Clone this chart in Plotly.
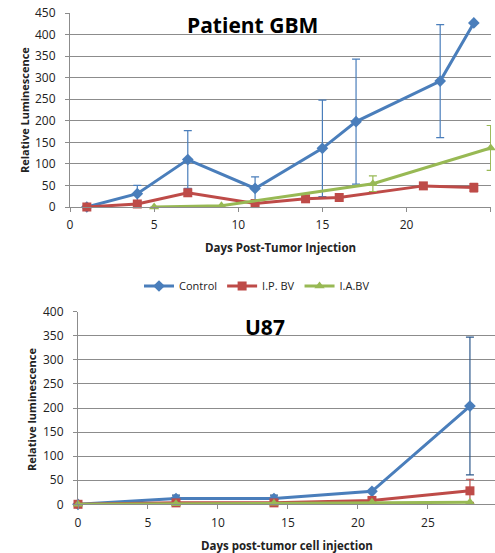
import plotly.graph_objects as go

W, H = 495, 553

# ---------------- Data: Patient GBM ----------------
gbm_ctrl_x = [1, 4, 7, 11, 15, 17, 22, 24]
gbm_ctrl_y = [0, 31, 110, 43, 136, 198, 292, 427]
gbm_ctrl_err = [None, 19, 67, 27, 112, 145, 131, None]

gbm_ip_x = [1, 4, 7, 11, 14, 16, 21, 24]
gbm_ip_y = [0, 7, 33, 8, 19, 22, 49, 45]
gbm_ip_err = [None, None, None, None, None, None, None, 10]

gbm_ia_x = [5, 9, 18, 25]
gbm_ia_y = [0, 3, 54, 137]
gbm_ia_err = [None, None, 18, 52]

# ---------------- Data: U87 ----------------
u87_ctrl_x = [0, 7, 14, 21, 28]
u87_ctrl_y = [0, 12, 12, 27, 204]
u87_ctrl_err = [None, 7, 7, None, 143]

u87_ip_x = [0, 7, 14, 21, 28]
u87_ip_y = [0, 3, 3, 8, 28]
u87_ip_err = [None, None, None, None, 24]

u87_ia_x = [0, 7, 14, 21, 28]
u87_ia_y = [0, 1, 2, 4, 4]

series_names = ["Control", "I.P. BV", "I.A.BV"]
gbm_yticks = [0, 50, 100, 150, 200, 250, 300, 350, 400, 450]
u87_yticks = [0, 50, 100, 150, 200, 250, 300, 350, 400]
gbm_xticks = [0, 5, 10, 15, 20, 25]
u87_xticks = [0, 5, 10, 15, 20, 25]

BLUE = "#4A7EBB"
RED = "#BE4B48"
GREEN = "#98B954"
GRID = "#8c8c8c"
FONT = "Open Sans, Liberation Sans, Arial, sans-serif"


def px_x(p):
    return p / W


def px_y(p):
    return 1 - p / H


def err(vals, color, w=1.2):
    return dict(type="data", array=vals, visible=True, color=color,
                thickness=w, width=4)


fig = go.Figure()

# Top chart traces
fig.add_trace(go.Scatter(x=gbm_ctrl_x, y=gbm_ctrl_y, name=series_names[0],
                         mode="lines+markers", line=dict(color=BLUE, width=3),
                         marker=dict(symbol="diamond", size=9, color=BLUE),
                         error_y=err(gbm_ctrl_err, BLUE), cliponaxis=False,
                         xaxis="x", yaxis="y"))
fig.add_trace(go.Scatter(x=gbm_ip_x, y=gbm_ip_y, name=series_names[1],
                         mode="lines+markers", line=dict(color=RED, width=3),
                         marker=dict(symbol="square", size=9, color=RED),
                         error_y=err(gbm_ip_err, RED), cliponaxis=False,
                         xaxis="x", yaxis="y"))
fig.add_trace(go.Scatter(x=gbm_ia_x, y=gbm_ia_y, name=series_names[2],
                         mode="lines+markers", line=dict(color=GREEN, width=3),
                         marker=dict(symbol="triangle-up", size=9, color=GREEN),
                         error_y=err(gbm_ia_err, GREEN), cliponaxis=False,
                         xaxis="x", yaxis="y"))

# Bottom chart traces
fig.add_trace(go.Scatter(x=u87_ctrl_x, y=u87_ctrl_y, name=series_names[0],
                         mode="lines+markers", line=dict(color=BLUE, width=3),
                         marker=dict(symbol="diamond", size=9, color=BLUE),
                         error_y=err(u87_ctrl_err, "#2F5A8C"), showlegend=False,
                         cliponaxis=False, xaxis="x2", yaxis="y2"))
fig.add_trace(go.Scatter(x=u87_ip_x, y=u87_ip_y, name=series_names[1],
                         mode="lines+markers", line=dict(color=RED, width=3),
                         marker=dict(symbol="square", size=9, color=RED),
                         error_y=err(u87_ip_err, RED), showlegend=False,
                         cliponaxis=False, xaxis="x2", yaxis="y2"))
fig.add_trace(go.Scatter(x=u87_ia_x, y=u87_ia_y, name=series_names[2],
                         mode="lines+markers", line=dict(color=GREEN, width=3),
                         marker=dict(symbol="triangle-up", size=9, color=GREEN),
                         showlegend=False, cliponaxis=False, xaxis="x2", yaxis="y2"))

axis_common = dict(showgrid=False, zeroline=False, showline=True, linecolor=GRID,
                   linewidth=1, ticks="outside", ticklen=4, tickcolor=GRID,
                   automargin=False, ticklabelstandoff=3,
                   tickfont=dict(family=FONT, size=12, color="#222"))
yaxis_common = dict(showgrid=True, gridcolor=GRID, gridwidth=1, zeroline=False,
                    showline=True, linecolor=GRID, ticks="outside", ticklen=4,
                    tickcolor=GRID, automargin=False, ticklabelstandoff=7,
                    tickfont=dict(family=FONT, size=12, color="#222"))


def ann(text, x, y, size, angle=0, color="#222"):
    return dict(text=text, x=px_x(x), y=px_y(y), xref="paper", yref="paper",
                xanchor="center", yanchor="middle", showarrow=False,
                textangle=angle, font=dict(family=FONT, size=size, color=color))


fig.update_layout(
    width=W, height=H,
    margin=dict(l=0, r=0, t=0, b=0, autoexpand=False),
    paper_bgcolor="white", plot_bgcolor="white",
    xaxis=dict(domain=[px_x(70), px_x(491)], range=[0, 25.02], tickvals=gbm_xticks,
               anchor="y", **axis_common),
    yaxis=dict(domain=[px_y(207), px_y(13)], range=[0, 450], tickvals=gbm_yticks,
               anchor="x", **yaxis_common),
    xaxis2=dict(domain=[px_x(78), 1.0], range=[0, 29.79], tickvals=u87_xticks,
                anchor="y2", **axis_common),
    yaxis2=dict(domain=[px_y(504.3), px_y(311.7)], range=[0, 400], tickvals=u87_yticks,
                anchor="x2", **yaxis_common),
    legend=dict(orientation="h", x=px_x(257), y=px_y(286), xanchor="center",
                yanchor="middle", font=dict(family=FONT, size=11, color="#222"),
                itemwidth=30, bgcolor="rgba(0,0,0,0)"),
    showlegend=True,
    annotations=[
        ann("<b>Patient GBM</b>", 253, 25, 21, color="black"),
        ann("<b>U87</b>", 265, 327, 21, color="black"),
        ann("<b>Relative Luminescence</b>", 24, 110, 11, angle=-90),
        ann("<b>Days Post-Tumor Injection</b>", 280, 247, 11.5),
        ann("<b>Relative luminescence</b>", 31, 410, 11, angle=-90),
        ann("<b>Days post-tumor cell injection</b>", 287, 545, 11.5),
    ],
)

fig.write_html("out.html", config={"displayModeBar": False},
               post_script="document.body.style.margin='0';document.body.style.overflow='hidden';")
